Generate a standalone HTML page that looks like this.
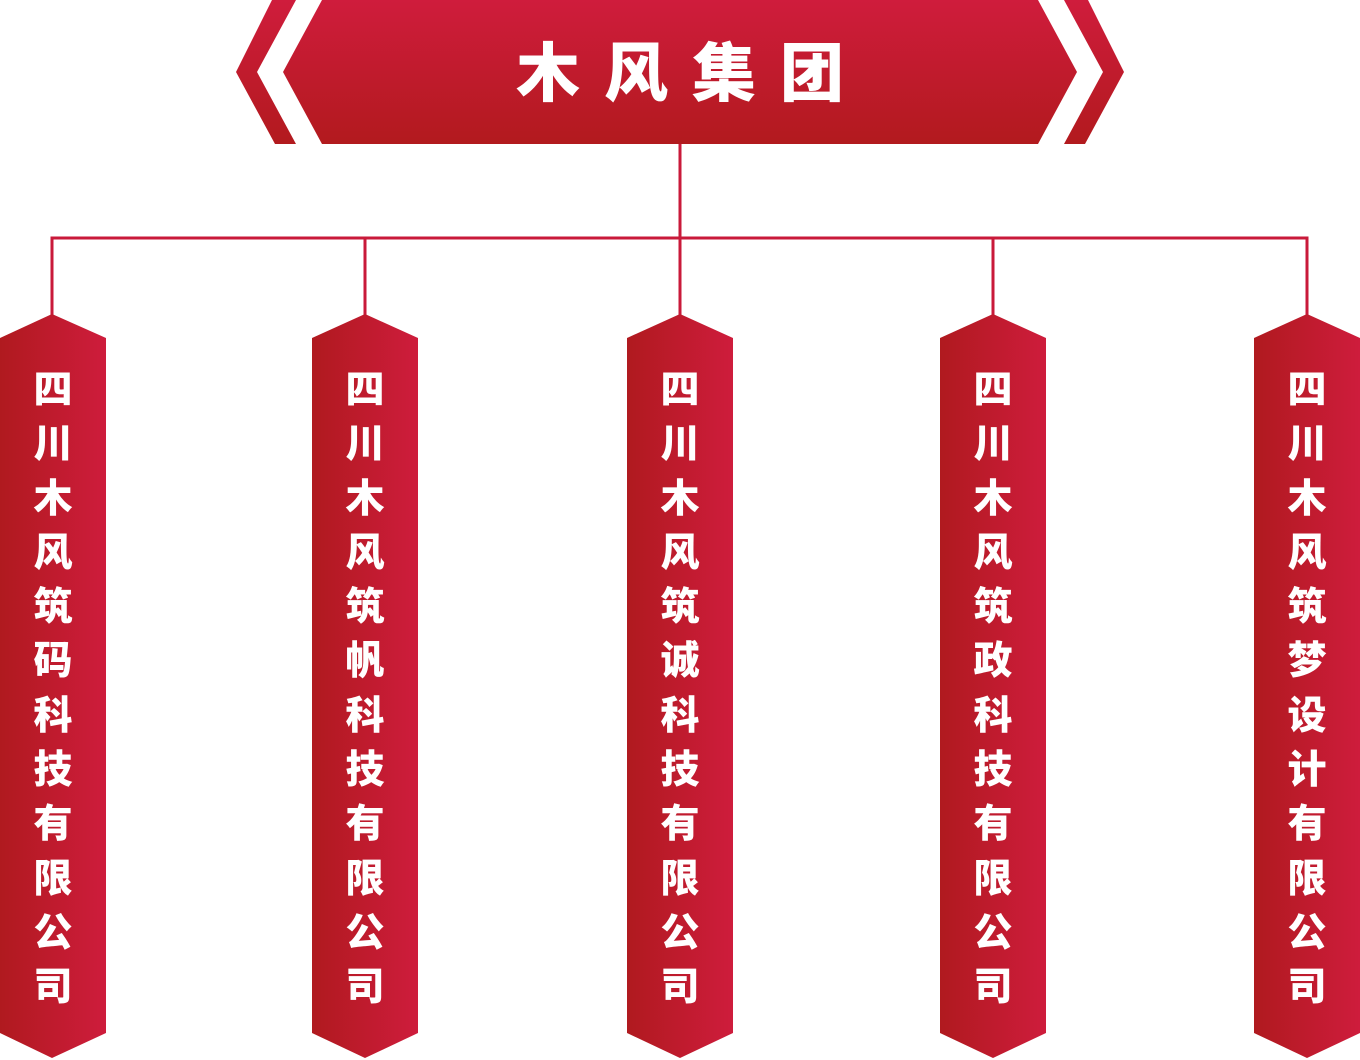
<!DOCTYPE html>
<html><head><meta charset="utf-8"><style>
html,body{margin:0;padding:0;background:#fff;width:1360px;height:1060px;overflow:hidden;position:relative;font-family:"Liberation Sans","Noto Sans CJK SC",sans-serif;}
.title{position:absolute;left:0;width:1360px;top:34px;text-align:center;color:#fff;font-weight:900;font-size:64px;line-height:80px;letter-spacing:24px;padding-left:24px;box-sizing:border-box;}
.col{position:absolute;top:364px;width:106px;color:#fff;font-weight:900;font-size:39px;line-height:54.3px;text-align:center;}
</style></head><body>
<svg width="1360" height="1060" style="position:absolute;left:0;top:0">
<defs>
<linearGradient id="gv" x1="0" y1="0" x2="0" y2="1"><stop offset="0" stop-color="#cf1c3c"/><stop offset="1" stop-color="#b21a1e"/></linearGradient>
<linearGradient id="gh" x1="0" y1="0" x2="1" y2="0"><stop offset="0" stop-color="#b01a1f"/><stop offset="1" stop-color="#ce1c3c"/></linearGradient>
</defs>
<polygon points="272,0 296,0 257,72 296,144 275,144 236,72" fill="url(#gv)"/>
<polygon points="1088,0 1064,0 1103,72 1064,144 1085,144 1124,72" fill="url(#gv)"/>
<polygon points="322,0 1038,0 1077,72 1038,144 322,144 283,72" fill="url(#gv)"/>
<g stroke="#c91a3a" stroke-width="3" fill="none">
<line x1="680" y1="144" x2="680" y2="320"/>
<polyline points="52,320 52,238 1307,238 1307,320"/>
<line x1="365" y1="238" x2="365" y2="320"/>
<line x1="993" y1="238" x2="993" y2="320"/>
</g>
<g fill="url(#gh)">
<polygon points="0,338 52,314 106,338 106,1033 52,1058 0,1033"/>
<polygon points="312,338 365,314 418,338 418,1033 365,1058 312,1033"/>
<polygon points="627,338 680,314 733,338 733,1033 680,1058 627,1033"/>
<polygon points="940,338 993,314 1046,338 1046,1033 993,1058 940,1033"/>
<polygon points="1254,338 1307,314 1360,338 1360,1033 1307,1058 1254,1033"/>
</g>
</svg>
<div class="title">木风集团</div>
<div class="col" style="left:0">四<br>川<br>木<br>风<br>筑<br>码<br>科<br>技<br>有<br>限<br>公<br>司</div>
<div class="col" style="left:312px">四<br>川<br>木<br>风<br>筑<br>帆<br>科<br>技<br>有<br>限<br>公<br>司</div>
<div class="col" style="left:627px">四<br>川<br>木<br>风<br>筑<br>诚<br>科<br>技<br>有<br>限<br>公<br>司</div>
<div class="col" style="left:940px">四<br>川<br>木<br>风<br>筑<br>政<br>科<br>技<br>有<br>限<br>公<br>司</div>
<div class="col" style="left:1254px">四<br>川<br>木<br>风<br>筑<br>梦<br>设<br>计<br>有<br>限<br>公<br>司</div>
</body></html>
